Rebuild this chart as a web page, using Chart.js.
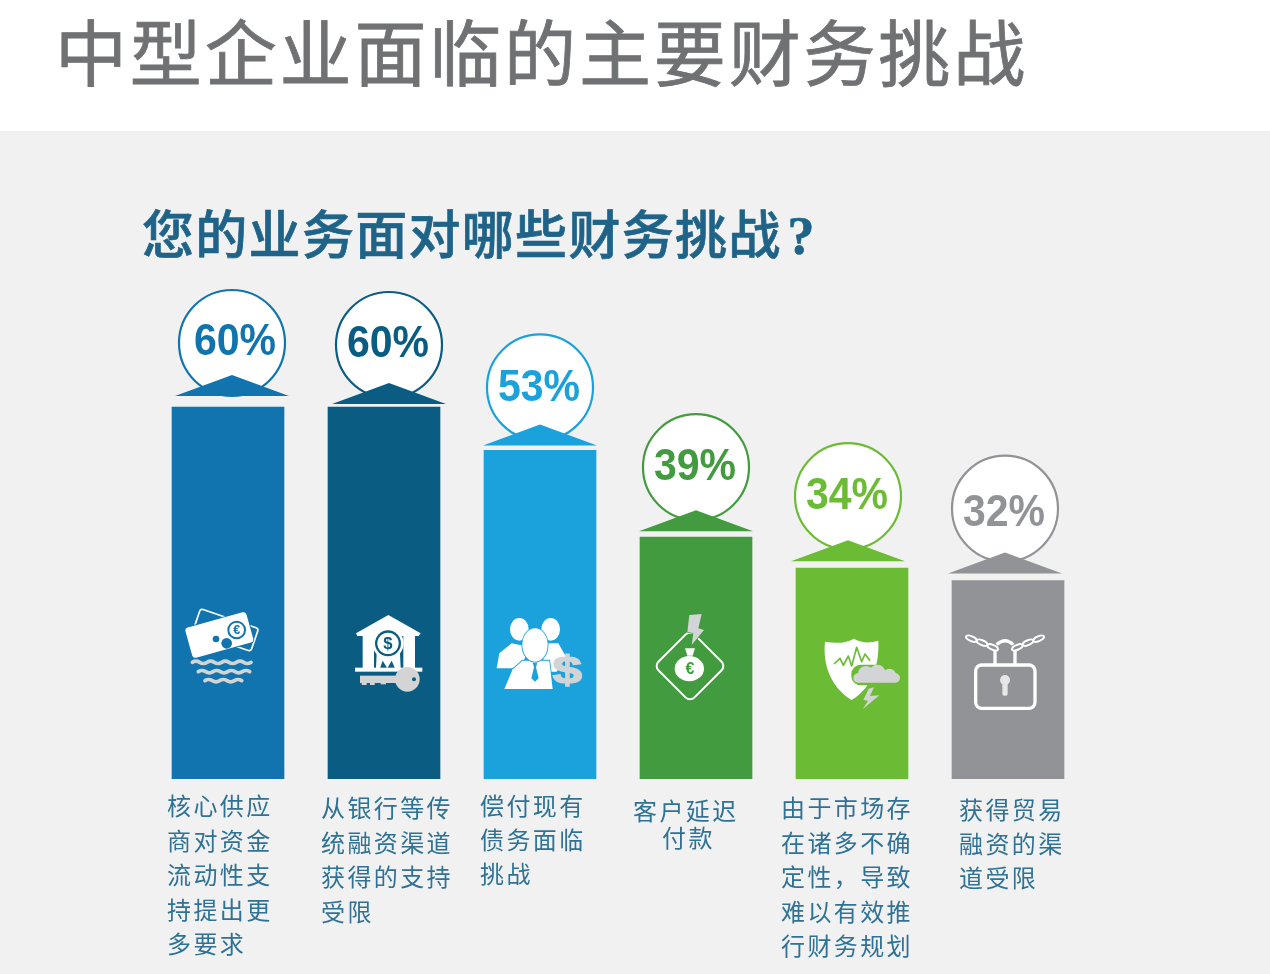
<!DOCTYPE html>
<html lang="zh">
<head>
<meta charset="utf-8">
<title>中型企业面临的主要财务挑战</title>
<script src="https://cdn.jsdelivr.net/npm/chart.js@4"></script>
<style>
  html, body { margin: 0; padding: 0; width: 1270px; height: 974px; overflow: hidden; background: #f1f1f1; }
  #band { position: absolute; left: 0; top: 0; width: 1270px; height: 131px; background: #fff; }
  h1, h2 { position: absolute; margin: 0; white-space: nowrap; font-family: "Noto Sans CJK SC", sans-serif; }
  h1 { left: 55px; top: -3px; font-size: 72px; line-height: 104px; font-weight: 400; letter-spacing: 2.85px; color: #707173; -webkit-text-stroke: 0.8px #707173; }
  h2 { left: 142px; top: 194px; font-size: 52px; line-height: 76px; font-weight: 500; letter-spacing: 1.3px; color: #1f6488; -webkit-text-stroke: 0.7px #1f6488; }
  h2 span { font-family: "Liberation Serif", serif; font-size: 54px; font-weight: 700; margin-left: 6px; }
  #chart { position: absolute; left: 0; top: 0; }
</style>
</head>
<body>
<div id="band"></div>
<h1>中型企业面临的主要财务挑战</h1>
<h2>您的业务面对哪些财务挑战<span>?</span></h2>
<canvas id="chart" width="1270" height="974"></canvas>
<script>
const categories = [
  ['核心供应', '商对资金', '流动性支', '持提出更', '多要求'],
  ['从银行等传', '统融资渠道', '获得的支持', '受限'],
  ['偿付现有', '债务面临', '挑战'],
  ['客户延迟', '付款'],
  ['由于市场存', '在诸多不确', '定性，导致', '难以有效推', '行财务规划'],
  ['获得贸易', '融资的渠', '道受限']
];
const percentages = [60, 60, 53, 39, 34, 32];
const barColors = ['#1274ae', '#0a5c82', '#1ba1dc', '#429b3f', '#6cbb35', '#929397'];

// badge placement relative to each bar
const badgeShift = [4, 5, 0, 0, -4, -3];
const badgeRise = [64, 62, 63, 70, 72, 72];
const percentShift = [3, -1, -1, -1, -1, -1];
const percentDrop = [0, 0, 1, 1, 1, 5];
const arrowGap = [11, 3, 5, 6, 7, 7];

// caption placement relative to each bar
const captionLeft = [-61, -63, -60, -63, -71, -49];
const captionTop = [806, 808, 806, 811, 808, 810];
const captionStep = [34.5, 34.5, 34, 27, 34.5, 34];

const GREY = '#d3d4d5';
const FONT_CJK = '"Noto Sans CJK SC", sans-serif';

function poly(ctx, pts) {
  ctx.beginPath();
  pts.forEach(function (p, i) {
    if (i === 0) ctx.moveTo(p[0], p[1]);
    else ctx.lineTo(p[0], p[1]);
  });
  ctx.closePath();
}

function disc(ctx, x, y, r, color) {
  ctx.fillStyle = color;
  ctx.beginPath();
  ctx.arc(x, y, r, 0, Math.PI * 2);
  ctx.fill();
}

function wave(ctx, x0, x1, y) {
  ctx.beginPath();
  ctx.moveTo(x0, y);
  let up = true;
  for (let x = x0; x < x1; x += 22) {
    ctx.quadraticCurveTo(x + 11, y + (up ? -7 : 7), x + 22, y);
    up = !up;
  }
  ctx.stroke();
}

function glyph(ctx, text, x, y, font, color) {
  ctx.fillStyle = color;
  ctx.font = font;
  ctx.textAlign = 'center';
  ctx.textBaseline = 'middle';
  ctx.fillText(text, x, y);
}

function chainLink(ctx, x, y, angle) {
  ctx.save();
  ctx.translate(x, y);
  ctx.rotate(angle);
  ctx.beginPath();
  ctx.ellipse(0, 0, 17, 7, 0, 0, Math.PI * 2);
  ctx.stroke();
  ctx.restore();
}

// Icons are drawn on a 3x grid, origin set per bar in iconsPlugin
const icons = [
  function banknotes(ctx, color) {
    ctx.save();
    ctx.translate(197, 120);
    ctx.rotate(0.33);
    ctx.strokeStyle = '#fff';
    ctx.lineWidth = 5;
    ctx.beginPath();
    ctx.roundRect(-92, -36, 184, 72, 8);
    ctx.stroke();
    ctx.restore();

    ctx.save();
    ctx.translate(178, 135);
    ctx.rotate(-0.27);
    ctx.fillStyle = '#fff';
    ctx.strokeStyle = color;
    ctx.lineWidth = 6;
    ctx.beginPath();
    ctx.roundRect(-95, -47, 190, 94, 10);
    ctx.stroke();
    ctx.fill();
    ctx.restore();

    ctx.strokeStyle = color;
    ctx.lineWidth = 6;
    ctx.beginPath();
    ctx.arc(230, 120, 25, 0, Math.PI * 2);
    ctx.stroke();
    glyph(ctx, '€', 230, 122, 'bold 38px "Liberation Sans"', color);
    disc(ctx, 200, 160, 16, color);
    disc(ctx, 168, 147, 10, color);

    ctx.strokeStyle = GREY;
    ctx.lineWidth = 11;
    ctx.lineCap = 'round';
    wave(ctx, 97, 273, 217);
    wave(ctx, 115, 255, 245);
    wave(ctx, 135, 235, 272);
  },

  function bank(ctx, color) {
    ctx.fillStyle = '#fff';
    poly(ctx, [[685, 75], [782, 130], [776, 138], [592, 138], [588, 130]]);
    ctx.fill();
    ctx.fillRect(608, 135, 34, 100);
    ctx.fillRect(730, 135, 35, 100);
    ctx.fillRect(585, 233, 202, 12);
    poly(ctx, [[650, 190], [720, 190], [722, 235], [705, 235], [695, 212], [682, 235], [668, 212], [660, 235], [648, 235]]);
    ctx.fill();
    disc(ctx, 684, 160, 47, '#fff');
    disc(ctx, 684, 160, 39, color);
    disc(ctx, 684, 160, 32, '#fff');
    glyph(ctx, '$', 684, 162, 'bold 50px "Liberation Sans"', color);

    ctx.fillStyle = GREY;
    ctx.fillRect(600, 257, 125, 22);
    ctx.fillRect(605, 276, 15, 9);
    ctx.fillRect(630, 276, 14, 9);
    ctx.fillRect(662, 276, 16, 7);
    disc(ctx, 742, 268, 37, GREY);
    disc(ctx, 762, 268, 6, color);
  },

  function people(ctx, color) {
    ctx.fillStyle = '#fff';
    ctx.beginPath();
    ctx.ellipse(1078, 118, 28, 34, 0, 0, Math.PI * 2);
    ctx.ellipse(1172, 118, 28, 34, 0, 0, Math.PI * 2);
    ctx.fill();
    poly(ctx, [[1055, 160], [1105, 170], [1085, 235], [1010, 235], [1018, 190]]);
    ctx.fill();
    poly(ctx, [[1150, 160], [1195, 160], [1218, 200], [1190, 245], [1150, 245]]);
    ctx.fill();

    ctx.strokeStyle = color;
    ctx.lineWidth = 5;
    poly(ctx, [[1088, 212], [1168, 212], [1178, 297], [1033, 297], [1058, 238]]);
    ctx.stroke();
    ctx.fill();
    ctx.beginPath();
    ctx.ellipse(1125, 165, 38, 50, 0, 0, Math.PI * 2);
    ctx.stroke();
    ctx.fill();

    ctx.fillStyle = color;
    poly(ctx, [[1118, 218], [1132, 218], [1128, 232], [1136, 265], [1125, 275], [1114, 265], [1122, 232]]);
    ctx.fill();

    ctx.save();
    ctx.translate(1222, 245);
    ctx.scale(1.35, 1);
    ctx.strokeStyle = GREY;
    ctx.lineWidth = 4;
    ctx.font = 'bold 118px "Liberation Sans"';
    ctx.textAlign = 'center';
    ctx.textBaseline = 'middle';
    ctx.strokeText('$', 0, 2);
    glyph(ctx, '$', 0, 2, 'bold 118px "Liberation Sans"', GREY);
    ctx.restore();
  },

  function moneyBag(ctx, color) {
    ctx.strokeStyle = '#fff';
    ctx.lineWidth = 6;
    ctx.save();
    ctx.translate(180, 228);
    ctx.rotate(Math.PI / 4);
    ctx.beginPath();
    ctx.roundRect(-76, -76, 152, 152, 18);
    ctx.stroke();
    ctx.restore();

    ctx.fillStyle = GREY;
    poly(ctx, [[178, 75], [215, 72], [205, 115], [222, 120], [185, 165], [190, 130], [172, 125]]);
    ctx.strokeStyle = color;
    ctx.lineWidth = 4;
    ctx.stroke();
    ctx.fill();

    ctx.fillStyle = '#fff';
    poly(ctx, [[165, 175], [195, 175], [188, 197], [172, 197]]);
    ctx.fill();
    ctx.beginPath();
    ctx.ellipse(178, 236, 44, 38, 0, 0, Math.PI * 2);
    ctx.fill();
    glyph(ctx, '€', 180, 238, 'bold 48px "Liberation Sans"', color);
  },

  function shieldStorm(ctx, color) {
    ctx.fillStyle = '#fff';
    ctx.beginPath();
    ctx.moveTo(585, 155);
    ctx.quadraticCurveTo(640, 165, 672, 146);
    ctx.quadraticCurveTo(705, 165, 745, 152);
    ctx.bezierCurveTo(748, 220, 730, 290, 665, 330);
    ctx.bezierCurveTo(600, 290, 578, 220, 585, 155);
    ctx.fill();

    ctx.strokeStyle = color;
    ctx.lineWidth = 5;
    ctx.lineJoin = 'round';
    ctx.beginPath();
    [[612, 222], [630, 205], [640, 226], [655, 198], [665, 228], [680, 172], [695, 215], [705, 192], [720, 212]].forEach(function (p, i) {
      if (i === 0) ctx.moveTo(p[0], p[1]);
      else ctx.lineTo(p[0], p[1]);
    });
    ctx.stroke();

    // cloud with a soft gap round it
    ctx.fillStyle = color;
    ctx.beginPath();
    ctx.roundRect(664, 224, 152, 62, 28);
    ctx.fill();
    disc(ctx, 708, 252, 24, GREY);
    disc(ctx, 742, 248, 24, GREY);
    disc(ctx, 778, 256, 20, GREY);
    ctx.fillStyle = GREY;
    ctx.beginPath();
    ctx.roundRect(670, 250, 140, 28, 14);
    ctx.fill();

    poly(ctx, [[732, 292], [720, 318], [748, 316], [698, 358], [714, 332], [700, 330], [716, 296]]);
    ctx.fill();
  },

  function padlock(ctx) {
    ctx.strokeStyle = '#fff';
    ctx.lineWidth = 10;
    ctx.beginPath();
    ctx.roundRect(1037, 225, 178, 130, 18);
    ctx.stroke();
    ctx.beginPath();
    ctx.moveTo(1095, 225);
    ctx.lineTo(1095, 180);
    ctx.moveTo(1155, 225);
    ctx.lineTo(1155, 180);
    ctx.moveTo(1100, 164);
    ctx.quadraticCurveTo(1125, 140, 1150, 164);
    ctx.stroke();

    // chain links either side of the shackle
    ctx.lineWidth = 6;
    chainLink(ctx, 1024, 146, 0.4);
    chainLink(ctx, 1056, 158, 0.4);
    chainLink(ctx, 1088, 172, 0.4);
    chainLink(ctx, 1226, 146, -0.4);
    chainLink(ctx, 1194, 158, -0.4);
    chainLink(ctx, 1162, 172, -0.4);

    disc(ctx, 1125, 270, 15, '#e6e6e6');
    ctx.fillStyle = '#e6e6e6';
    ctx.beginPath();
    ctx.roundRect(1117, 272, 16, 45, 6);
    ctx.fill();
  }
];
const iconOrigin = [204, 672, 1140, 198, 666, 1134];

const badgesPlugin = {
  id: 'badges',
  afterDatasetsDraw(chart) {
    const ctx = chart.ctx;
    const xScale = chart.scales.x;
    const yScale = chart.scales.y;

    percentages.forEach(function (value, i) {
      const top = yScale.getPixelForValue(value);
      const cx = xScale.getPixelForValue(i) + badgeShift[i];
      const cy = top - badgeRise[i];
      const arrowBase = top - arrowGap[i];
      const color = barColors[i];

      ctx.save();
      ctx.fillStyle = '#fff';
      ctx.strokeStyle = color;
      ctx.lineWidth = 2.2;
      ctx.beginPath();
      ctx.arc(cx, cy, 53, 0, Math.PI * 2);
      ctx.fill();
      ctx.stroke();

      ctx.fillStyle = color;
      poly(ctx, [[cx, arrowBase - 21], [cx + 57, arrowBase], [cx - 57, arrowBase]]);
      ctx.fill();

      // percent digits run slightly tall
      ctx.translate(cx + percentShift[i], cy + percentDrop[i]);
      ctx.scale(1, 1.08);
      glyph(ctx, value + '%', 0, 0, 'bold 41px "Liberation Sans"', color);
      ctx.restore();
    });
  }
};

const iconsPlugin = {
  id: 'icons',
  afterDatasetsDraw(chart) {
    const ctx = chart.ctx;
    const xScale = chart.scales.x;
    const gridTop = chart.scales.y.getPixelForValue(0) - 189;

    icons.forEach(function (draw, i) {
      ctx.save();
      ctx.translate(xScale.getPixelForValue(i), gridTop);
      ctx.scale(1 / 3, 1 / 3);
      ctx.translate(-iconOrigin[i], 0);
      draw(ctx, barColors[i]);
      ctx.restore();
    });
  }
};

const captionsPlugin = {
  id: 'captions',
  afterDraw(chart) {
    const ctx = chart.ctx;
    const xScale = chart.scales.x;

    ctx.save();
    ctx.font = '24px ' + FONT_CJK;
    ctx.fillStyle = '#2f7295';
    ctx.textBaseline = 'middle';
    ctx.letterSpacing = '2.4px';
    categories.forEach(function (lines, i) {
      const center = xScale.getPixelForValue(i);
      lines.forEach(function (line, n) {
        let x = center + captionLeft[i];
        // short second line of the fourth caption sits centred under the first
        if (i === 3 && n === 1) x += 29;
        ctx.fillText(line, x, captionTop[i] + n * captionStep[i]);
      });
    });
    ctx.restore();
  }
};

new Chart(document.getElementById('chart'), {
  type: 'bar',
  data: {
    labels: categories,
    datasets: [{
      data: percentages,
      backgroundColor: barColors,
      borderWidth: 0,
      barThickness: 112
    }]
  },
  options: {
    responsive: false,
    animation: false,
    layout: {
      padding: { left: 150, right: 184, top: 345, bottom: 195 }
    },
    scales: {
      x: { display: false },
      y: { display: false, min: 0, max: 70 }
    },
    plugins: {
      legend: { display: false },
      tooltip: { enabled: false }
    }
  },
  plugins: [badgesPlugin, iconsPlugin, captionsPlugin]
});
</script>
</body>
</html>
